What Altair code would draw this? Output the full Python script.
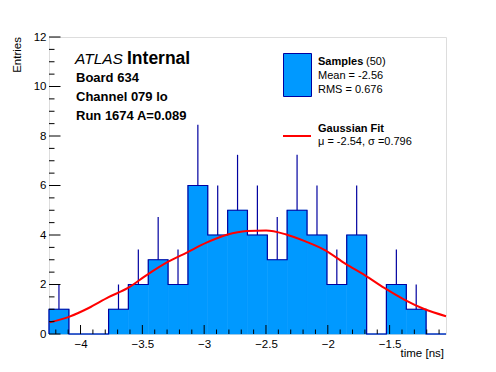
import altair as alt
import pandas as pd

FONT = "Liberation Sans"

# histogram (bin edges in ns, entries per bin, Poisson errors)
edges = [-4.255, -4.094, -3.934, -3.773, -3.613, -3.452, -3.292, -3.131, -2.971, -2.810,
         -2.650, -2.489, -2.329, -2.168, -2.007, -1.847, -1.686, -1.526, -1.365, -1.205, -1.044]
counts = [1, 0, 0, 1, 2, 3, 2, 6, 4, 5, 4, 3, 5, 4, 2, 4, 0, 2, 1, 0]
errors = [1, 0, 0, 1, 1.41, 1.73, 1.41, 2.45, 2, 2.24, 2, 1.73, 2.24, 2, 1.41, 2, 0, 1.41, 1, 0]

# gaussian fit curve
fit_t = [-4.25, -4.094, -3.934, -3.773, -3.62, -3.459, -3.298, -3.137, -2.977, -2.816,
         -2.655, -2.499, -2.342, -2.181, -2.02, -1.859, -1.699, -1.543, -1.382, -1.221, -1.044]
fit_y = [0.47, 0.69, 1.05, 1.49, 1.85, 2.40, 2.90, 3.30, 3.70, 4.01,
         4.16, 4.18, 4.03, 3.74, 3.38, 2.84, 2.37, 1.86, 1.39, 1.01, 0.72]

x_major = [-4, -3.5, -3, -2.5, -2, -1.5]
x_minor = [-4.2, -4.1, -3.9, -3.8, -3.7, -3.6, -3.4, -3.3, -3.2, -3.1, -2.9, -2.8, -2.7, -2.6,
           -2.4, -2.3, -2.2, -2.1, -1.9, -1.8, -1.7, -1.6, -1.4, -1.3, -1.2, -1.1]
y_major = [0, 2, 4, 6, 8, 10, 12]
y_minor = [0.5, 1, 1.5, 2.5, 3, 3.5, 4.5, 5, 5.5, 6.5, 7, 7.5, 8.5, 9, 9.5, 10.5, 11, 11.5]

XMIN, XMAX = -4.255, -1.044
FILL = "#0099ff"
LINE = "#0000a0"
W, H = 397, 297
OX, OY = 49, 37

xs = alt.Scale(domain=[XMIN, XMAX], nice=False, zero=False)
ys = alt.Scale(domain=[0, 12], nice=False, zero=False)

xaxis = alt.Axis(values=x_major, format="~g", tickSize=0, domain=False, grid=False, labelFontSize=11.5,
                 labelFont=FONT, labelColor="black", labelPadding=4, title=None, labelFlush=False)
yaxis = alt.Axis(values=y_major, format="~g", tickSize=0, domain=False, grid=False, labelFontSize=11.5,
                 labelFont=FONT, labelColor="black", labelPadding=3, title=None)

def X(f):
    return alt.X(f, scale=xs, axis=xaxis)

def Y(f):
    return alt.Y(f, scale=ys, axis=yaxis)

bars = pd.DataFrame({"lo": edges[:-1], "hi": edges[1:], "c": counts, "z": [0] * len(counts)})
bars["mid"] = [(a + b) / 2 for a, b in zip(edges[:-1], edges[1:])]
bars["top"] = [c + e for c, e in zip(counts, errors)]
errs = bars[bars["c"] > 0]

step_x = [edges[0]] + edges[:-1] + [edges[-1], edges[-1]]
step_y = [0] + counts + [counts[-1], 0]
step = pd.DataFrame({"x": step_x, "y": step_y, "i": list(range(len(step_x)))})

fit = pd.DataFrame({"t": fit_t, "y": fit_y})

hist = alt.Chart(bars).mark_rect(color=FILL, stroke=FILL, strokeWidth=0.6).encode(
    x=X("lo:Q"), x2="hi:Q", y=Y("c:Q"), y2="z:Q")

outline = alt.Chart(step).mark_line(color=LINE, strokeWidth=1.2, interpolate="step-after").encode(
    x=X("x:Q"), y=Y("y:Q"), order="i:Q")

ebars = alt.Chart(errs).mark_rule(color=LINE, strokeWidth=1.2).encode(
    x=X("mid:Q"), y=Y("c:Q"), y2="top:Q")

curve = alt.Chart(fit).mark_line(color="#ff0000", strokeWidth=2, interpolate="monotone").encode(
    x=X("t:Q"), y=Y("y:Q"))

def xt(vals, length):
    return alt.Chart(pd.DataFrame({"v": vals})).mark_rule(color="black", strokeWidth=1).encode(
        x=X("v:Q"), y=alt.value(H), y2=alt.value(H - length))

def yt(vals, length):
    return alt.Chart(pd.DataFrame({"v": vals})).mark_rule(color="black", strokeWidth=1).encode(
        y=Y("v:Q"), x=alt.value(0), x2=alt.value(length))

def txt(s, px, py, size=11.5, weight="normal", style="normal", align="left", angle=0, baseline="alphabetic"):
    return alt.Chart(pd.DataFrame({"t": [s]})).mark_text(
        align=align, baseline=baseline, fontSize=size, fontWeight=weight, fontStyle=style,
        font=FONT, color="black", angle=angle).encode(
        x=alt.value(px - OX), y=alt.value(py - OY), text="t:N")

legend_box = alt.Chart(pd.DataFrame({"a": [0]})).mark_rect(color=FILL, stroke=LINE, strokeWidth=1).encode(
    x=alt.value(283.5 - OX), x2=alt.value(311.5 - OX), y=alt.value(53.5 - OY), y2=alt.value(96.5 - OY))
legend_line = alt.Chart(pd.DataFrame({"a": [0]})).mark_rule(color="#ff0000", strokeWidth=2).encode(
    x=alt.value(283 - OX), x2=alt.value(311 - OX), y=alt.value(136 - OY))

texts = [
    txt("ATLAS", 75, 64, size=15.5, style="italic"),
    txt("Internal", 127, 64, size=17.5, weight="bold"),
    txt("Board 634", 76, 82, size=13, weight="bold"),
    txt("Channel 079 lo", 76, 101, size=13, weight="bold"),
    txt("Run 1674 A=0.089", 76, 120, size=13, weight="bold"),
    txt("Samples", 318, 65, size=11, weight="bold"),
    txt("(50)", 366, 65, size=11),
    txt("Mean = -2.56", 318, 79, size=11),
    txt("RMS = 0.676", 318, 93, size=11),
    txt("Gaussian Fit", 318, 132, size=11, weight="bold"),
    txt("\u03bc = -2.54, \u03c3 =0.796", 318, 145, size=11),
    txt("time [ns]", 444, 357, size=11.5, align="right"),
    txt("Entries", 18, 37, size=11.5, align="right", angle=270, baseline="middle"),
]

chart = alt.layer(
    hist, outline, ebars, curve,
    xt(x_major, 9), xt(x_minor, 4.5), yt(y_major, 11.5), yt(y_minor, 5.5),
    legend_box, legend_line, *texts
).properties(
    width=W, height=H, padding={"left": 41, "top": 29, "right": 40, "bottom": 30},
    autosize=alt.AutoSizeParams(type="none"),
).configure_view(stroke="black", strokeWidth=1).configure(background="white")

chart.save("out.html", embed_options={"renderer": "svg", "actions": False})
